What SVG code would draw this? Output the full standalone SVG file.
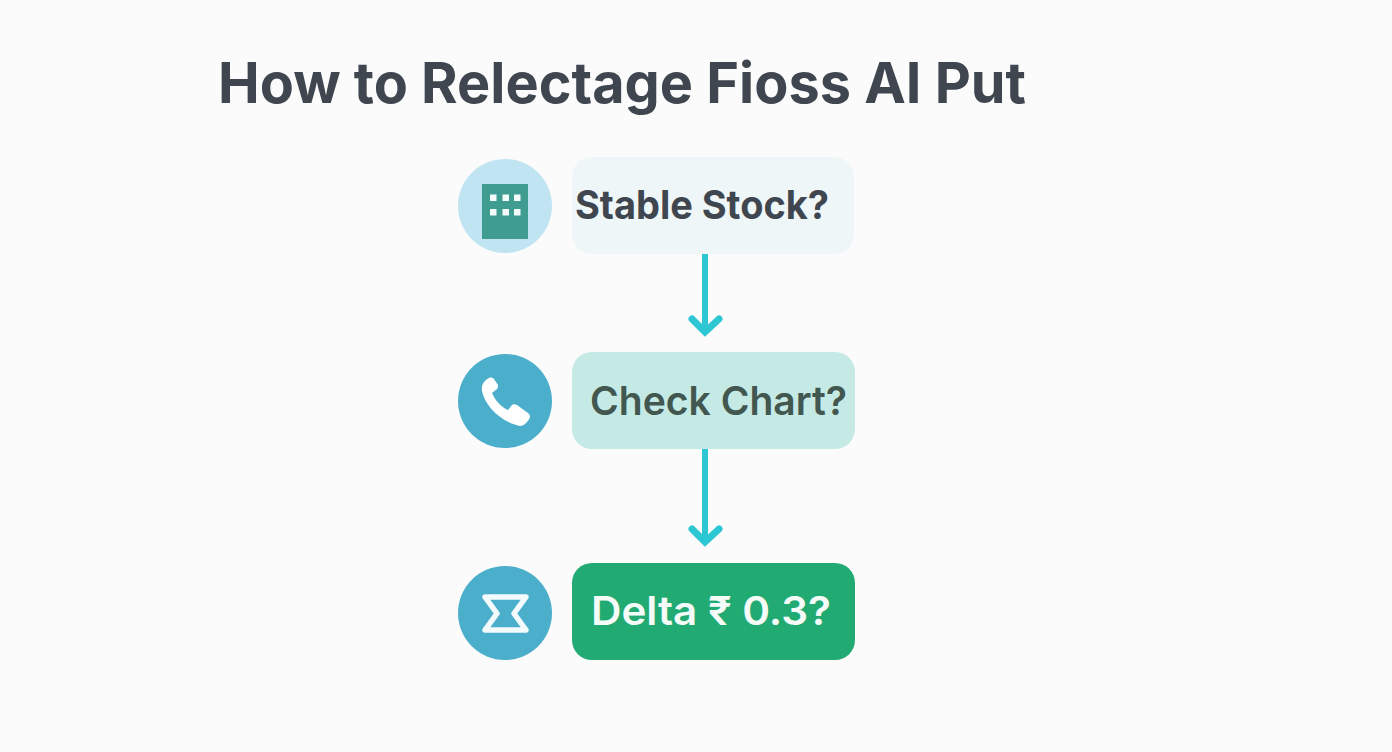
<svg xmlns="http://www.w3.org/2000/svg" width="1392" height="752" viewBox="0 0 1392 752">
<defs>
<style>
text{font-family:"Inter","Noto Sans","Liberation Sans",sans-serif;font-weight:700}
.lbl{font-size:40px}
.conn{fill:none;stroke:#2cc7d3;stroke-width:7;stroke-linecap:round;stroke-linejoin:miter}
.stem{fill:none;stroke:#2cc7d3;stroke-width:6}
</style>
</defs>
<rect width="1392" height="752" fill="#fbfbfb"/>
<text id="title" x="218" y="102.500" font-size="56" fill="#3f4650" textLength="808" lengthAdjust="spacingAndGlyphs">How to Relectage Fioss AI Put</text>
<g id="connectors">
<path class="stem" d="M705 254V332"/>
<path class="conn" d="M692 319L705 332L719 319"/>
<path class="stem" d="M705 449V542"/>
<path class="conn" d="M692 529L705 542L719 529"/>
</g>
<g id="node-stable">
<circle cx="505" cy="206" r="47" fill="#c0e4f2"/>
<rect x="482" y="184" width="46" height="55" fill="#3f9c90"/>
<g fill="#f2fbfa"><rect x="490" y="194.500" width="6.500" height="6.500"/><rect x="502.500" y="194.500" width="6.500" height="6.500"/><rect x="514" y="194.500" width="6.500" height="6.500"/><rect x="490" y="209" width="6.500" height="6.500"/><rect x="502.500" y="209" width="6.500" height="6.500"/><rect x="514" y="209" width="6.500" height="6.500"/></g>
<rect x="572" y="157" width="282" height="97" rx="20" fill="#eff6f7"/>
<text class="lbl" x="575" y="219" fill="#3f4650" textLength="254" lengthAdjust="spacingAndGlyphs">Stable Stock?</text>
</g>
<g id="node-check">
<circle cx="505" cy="401" r="47" fill="#4bafcc"/>
<path d="M489 378C485 380 481 384 482 391C485 407 503 423 520 426C524 426 529 421 530 417C530 415 529 414 528 413L517 405C515 404 513 404 512 405L508 410C501 407 495 400 492 393L497 389C498 388 498 386 498 385L494 379C493 378 491 377 489 378Z" fill="#fff"/>
<rect x="572" y="352" width="283" height="97" rx="20" fill="#c5eae5"/>
<text class="lbl" x="590" y="415" fill="#41574f" textLength="257" lengthAdjust="spacingAndGlyphs" style="font-weight:600">Check Chart?</text>
</g>
<g id="node-delta">
<circle cx="505" cy="613" r="47" fill="#4bafcc"/>
<path d="M485 597H526L514 613.500L526 630H485L497 613.500Z" fill="none" stroke="#f4fbfc" stroke-width="5.500" stroke-linejoin="round"/>
<rect x="572" y="563" width="283" height="97" rx="20" fill="#22aa73"/>
<text class="lbl" x="591" y="625" fill="#f4fbf8" textLength="240" lengthAdjust="spacingAndGlyphs" style="font-weight:600">Delta ₹ 0.3?</text>
</g>
</svg>
